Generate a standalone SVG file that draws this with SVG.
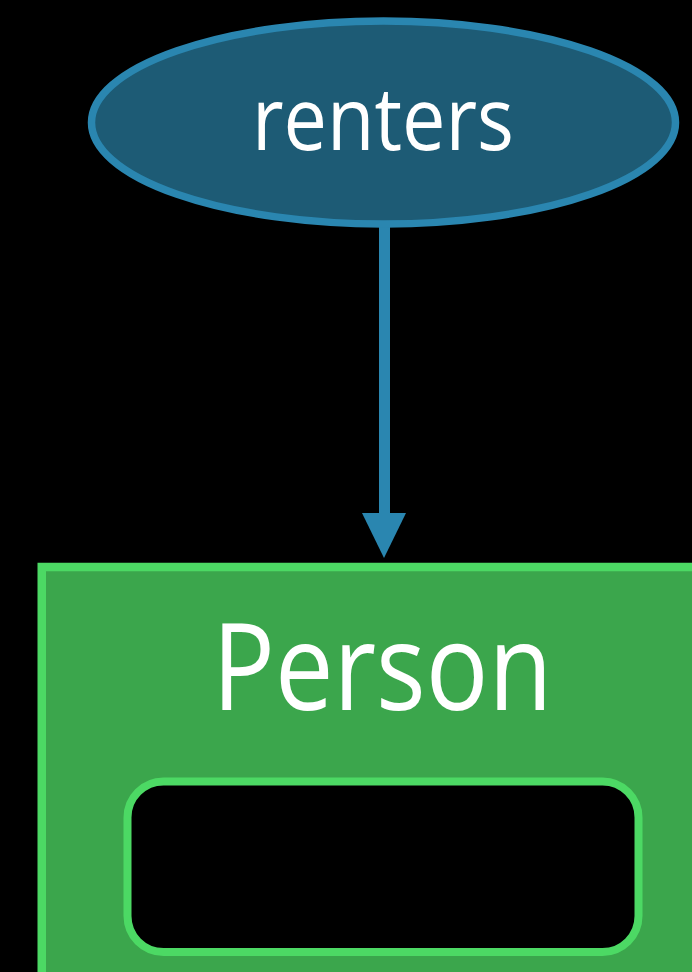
<svg xmlns="http://www.w3.org/2000/svg" width="692" height="972" viewBox="0 0 692 972">
<style>
.lbl{font-family:"Open Sans","Liberation Sans",sans-serif;fill:#ffffff;text-anchor:middle}
.conn{stroke:#2a86b0;stroke-width:11}
</style>
<rect x="0" y="0" width="692" height="972" fill="#000000"/>
<g id="connectors">
<line class="conn" x1="384.5" y1="226" x2="384.5" y2="516"/>
<polygon points="362,513 406,513 384,558" fill="#2a86b0"/>
</g>
<g id="renters">
<ellipse cx="383.5" cy="122.5" rx="292" ry="101.5" fill="#1d5b75" stroke="#2a86b0" stroke-width="7.5"/>
<text class="lbl" x="383" y="150" font-size="87" textLength="262" lengthAdjust="spacingAndGlyphs">renters</text>
</g>
<g id="Person">
<rect x="41.75" y="567" width="700" height="420" fill="#3ba64c" stroke="#4cd964" stroke-width="8.5"/>
<text class="lbl" x="382.3" y="710" font-size="121" textLength="340" lengthAdjust="spacingAndGlyphs">Person</text>
<rect x="127.5" y="781.5" width="511" height="170.5" rx="36" ry="36" fill="#000000" stroke="#4cd964" stroke-width="8"/>
</g>
</svg>
